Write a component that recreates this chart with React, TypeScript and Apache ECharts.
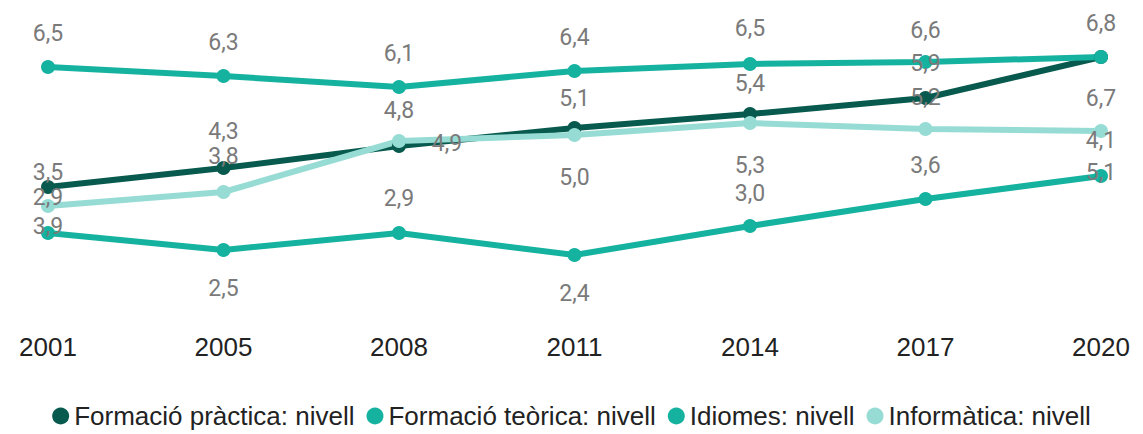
import React, { useEffect, useRef } from "react";
import * as echarts from "echarts";

const years = ["2001", "2005", "2008", "2011", "2014", "2017", "2020"];
const seriesNames = [
  "Formació pràctica: nivell",
  "Formació teòrica: nivell",
  "Idiomes: nivell",
  "Informàtica: nivell",
];

// Plotted positions of each line (read from the drawn heights)
const practicaPos = [4.1, 4.48, 4.92, 5.28, 5.56, 5.88, 6.7];
const teoricaPos = [6.5, 6.32, 6.1, 6.42, 6.56, 6.6, 6.7];
const idiomesPos = [3.18, 2.84, 3.18, 2.74, 3.32, 3.86, 4.32];
const informaticaPos = [3.72, 4.0, 5.02, 5.14, 5.38, 5.26, 5.22];

// Data labels as printed on the chart
const practicaLabels = [3.5, 4.3, 4.8, 5.1, 5.4, 5.9, 6.7];
const teoricaLabels = [6.5, 6.3, 6.1, 6.4, 6.5, 6.6, 6.8];
const idiomesLabels = [3.9, 2.5, 2.9, 2.4, 3.0, 3.6, 4.1];
const informaticaLabels = [2.9, 3.8, 4.9, 5.0, 5.3, 5.2, 5.1];

// Label placement (layout only)
const practicaOffsets = [[0, -15], [0, -37], [0, -36], [0, -30], [0, -31], [0, -35], [0, 41]];
const teoricaOffsets = [[0, -34], [0, -34], [0, -34], [0, -34], [0, -36], [0, -32], [0, -34]];
const idiomesOffsets = [[0, -7], [0, 38], [0, -35], [0, 38], [0, -33], [0, -34], [0, -36]];
const informaticaOffsets = [[0, -9], [0, -36], [48, 2], [0, 42], [0, 42], [0, -32], [0, 41]];

const colors = ["#085a4e", "#16b2a0", "#16b2a0", "#96dcd4"];

const fmt = (v: number) => v.toFixed(1).replace(".", ",");

function buildSeries(name: string, pos: number[], labels: number[], offsets: number[][], color: string) {
  return {
    name,
    type: "line",
    data: pos.map((v, i) => ({ value: v, label: { offset: offsets[i] } })),
    symbol: "circle",
    symbolSize: 14,
    lineStyle: { width: 6, color },
    itemStyle: { color },
    label: {
      show: true,
      position: "inside",
      formatter: (p: any) => fmt(labels[p.dataIndex]),
      color: "#7a7a7a",
      fontSize: 23,
      lineHeight: 22,
      fontFamily: "Roboto",
    },
    emphasis: { disabled: true },
  };
}

export default function App() {
  const ref = useRef<HTMLDivElement>(null);
  useEffect(() => {
    if (!ref.current) return;
    const chart = echarts.init(ref.current, undefined, { renderer: "svg" });
    chart.setOption({
      animation: false,
      color: colors,
      grid: { left: 48, right: 42, top: 17, bottom: 102 },
      xAxis: {
        type: "category",
        data: years,
        boundaryGap: false,
        axisLine: { show: false },
        axisTick: { show: false },
        axisLabel: {
          fontSize: 26,
          color: "#222",
          fontFamily: "Liberation Sans",
          margin: 2,
        },
      },
      yAxis: {
        type: "value",
        min: 1.2,
        max: 7.5,
        show: false,
        splitLine: { show: false },
      },
      legend: {
        data: seriesNames,
        top: 398,
        left: "center",
        icon: "circle",
        itemWidth: 17,
        itemHeight: 17,
        itemGap: 12,
        textStyle: { fontSize: 26, color: "#222", fontFamily: "Liberation Sans" },
      },
      series: [
        buildSeries(seriesNames[0], practicaPos, practicaLabels, practicaOffsets, colors[0]),
        buildSeries(seriesNames[1], teoricaPos, teoricaLabels, teoricaOffsets, colors[1]),
        buildSeries(seriesNames[2], idiomesPos, idiomesLabels, idiomesOffsets, colors[2]),
        buildSeries(seriesNames[3], informaticaPos, informaticaLabels, informaticaOffsets, colors[3]),
      ],
    });
    return () => chart.dispose();
  }, []);
  return (
    <div
      ref={ref}
      style={{ position: "absolute", left: 0, top: 0, width: 1143, height: 434 }}
    />
  );
}
